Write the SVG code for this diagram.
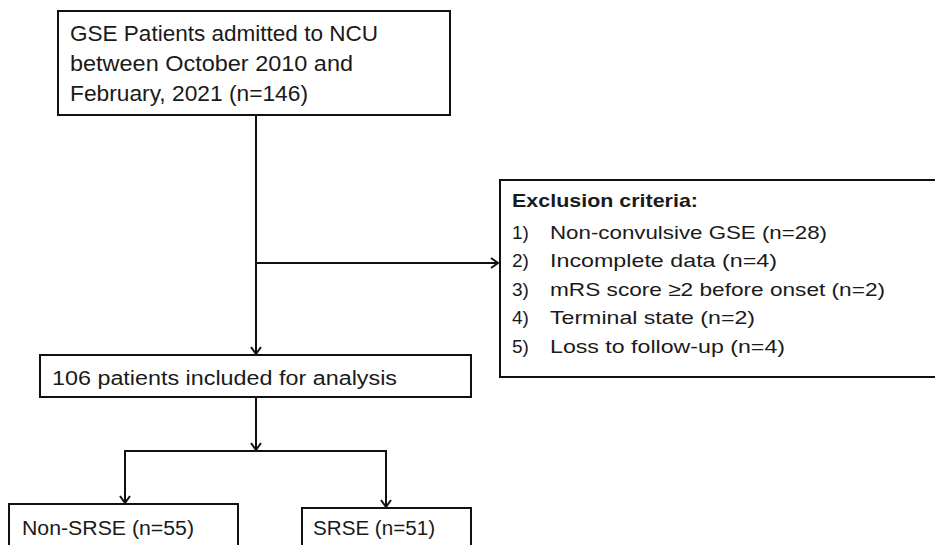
<svg xmlns="http://www.w3.org/2000/svg" width="935" height="545" viewBox="0 0 935 545">
<defs>
<marker id="arr" viewBox="0 0 12 12" refX="11" refY="6" markerWidth="12" markerHeight="12" markerUnits="userSpaceOnUse" orient="auto">
<path d="M4,1 L11,6 L4,11" fill="none" stroke="#111" stroke-width="2"/>
</marker>
<style>
.box{fill:#fff;stroke:#111;stroke-width:2}
.ln{fill:none;stroke:#111;stroke-width:2}
.t{font-family:"Liberation Sans",Arial,sans-serif;fill:#1a1a1a}
.e{font-size:19px}
</style>
</defs>
<rect width="935" height="545" fill="#fff"/>
<g id="connectors">
<line class="ln" x1="256" y1="115" x2="256" y2="354" marker-end="url(#arr)"/>
<line class="ln" x1="256" y1="263" x2="498" y2="263" marker-end="url(#arr)"/>
<line class="ln" x1="256" y1="397" x2="256" y2="450" marker-end="url(#arr)"/>
<polyline class="ln" points="125,451 386,451"/>
<line class="ln" x1="125" y1="450" x2="125" y2="503" marker-end="url(#arr)"/>
<line class="ln" x1="386" y1="450" x2="386" y2="507" marker-end="url(#arr)"/>
</g>
<g id="node-gse">
<rect class="box" x="58" y="11" width="392" height="104"/>
<text class="t" font-size="22" x="70" y="41" textLength="308" lengthAdjust="spacingAndGlyphs">GSE Patients admitted to NCU</text>
<text class="t" font-size="22" x="70" y="71" textLength="283" lengthAdjust="spacingAndGlyphs">between October 2010 and</text>
<text class="t" font-size="22" x="70" y="101" textLength="238" lengthAdjust="spacingAndGlyphs">February, 2021 (n=146)</text>
</g>
<g id="node-exclusion">
<rect class="box" x="500" y="180" width="445" height="197"/>
<text class="t e" font-weight="bold" x="512" y="207" textLength="186" lengthAdjust="spacingAndGlyphs">Exclusion criteria:</text>
<text class="t e" x="512" y="238.5">1)</text>
<text class="t e" x="550" y="238.5" textLength="277" lengthAdjust="spacingAndGlyphs">Non-convulsive GSE (n=28)</text>
<text class="t e" x="512" y="267">2)</text>
<text class="t e" x="550" y="267" textLength="227" lengthAdjust="spacingAndGlyphs">Incomplete data (n=4)</text>
<text class="t e" x="512" y="295.5">3)</text>
<text class="t e" x="550" y="295.5" textLength="335" lengthAdjust="spacingAndGlyphs">mRS score ≥2 before onset (n=2)</text>
<text class="t e" x="512" y="324">4)</text>
<text class="t e" x="550" y="324" textLength="205" lengthAdjust="spacingAndGlyphs">Terminal state (n=2)</text>
<text class="t e" x="512" y="352.5">5)</text>
<text class="t e" x="550" y="352.5" textLength="235" lengthAdjust="spacingAndGlyphs">Loss to follow-up (n=4)</text>
</g>
<g id="node-included">
<rect class="box" x="40" y="355" width="431" height="42"/>
<text class="t" font-size="20" x="52" y="385" textLength="345" lengthAdjust="spacingAndGlyphs">106 patients included for analysis</text>
</g>
<g id="node-nonsrse">
<rect class="box" x="9" y="504" width="229" height="50"/>
<text class="t" font-size="20" x="22" y="534.5" textLength="172" lengthAdjust="spacingAndGlyphs">Non-SRSE (n=55)</text>
</g>
<g id="node-srse">
<rect class="box" x="302" y="508" width="169" height="50"/>
<text class="t" font-size="20" x="313" y="534.5" textLength="122" lengthAdjust="spacingAndGlyphs">SRSE (n=51)</text>
</g>
</svg>
